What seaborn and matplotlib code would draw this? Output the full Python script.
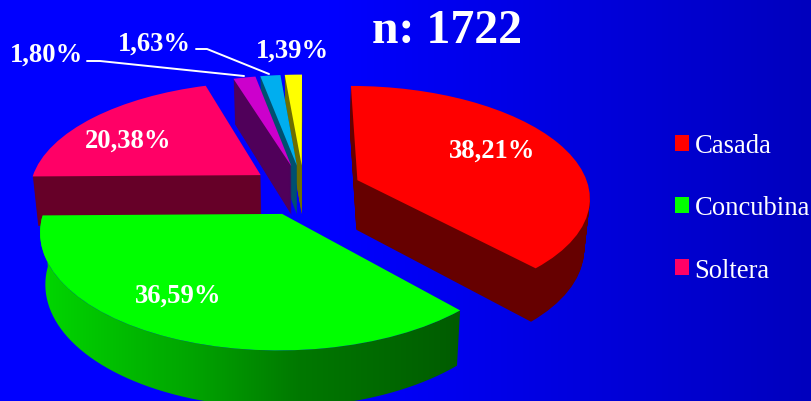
import numpy as np
import matplotlib
matplotlib.use("Agg")
import matplotlib.pyplot as plt
import seaborn as sns
from matplotlib.patches import Wedge
from matplotlib.path import Path
from matplotlib.transforms import Transform

categories = ["Casada", "Concubina", "Soltera", "Otra 1", "Otra 2", "Otra 3"]
shares = [38.21, 36.59, 20.38, 1.80, 1.63, 1.39]
legend_names = ["Casada", "Concubina", "Soltera"]
title_text = "n: 1722"
top_colors = ["#FF0000", "#00FF00", "#FF0066", "#CC00CC", "#00AEEF", "#FFFF00"]
wall_colors = ["#660000", "#006000", "#660028", "#50005A", "#005070", "#6E6E00"]
explode = [0.25, 0.23, 0.235, 0.23, 0.23, 0.23]
label_xy = [(492, 151), (178, 296), (128, 141), (46, 55), (154, 44), (292, 51)]

sns.set_style("white")
plt.rcParams["font.family"] = ["Liberation Serif", "DejaVu Serif"]
palette = sns.color_palette(top_colors)

W, H = 811, 402
CX, CY, A, B, K = 304.0, 191.0, 232.0, 110.0, 0.14
DEPTH, SHRINK = 50, 0.02


class Persp(Transform):
    input_dims = output_dims = 2
    has_inverse = False
    is_separable = False

    def __init__(self, frac=0.0):
        super().__init__()
        self.frac = frac

    def transform_non_affine(self, values):
        v = np.asarray(values, float)
        w = 1 + K * v[:, 1]
        s = 1 - SHRINK * self.frac
        return np.column_stack([
            CX + s * A * v[:, 0] / w,
            CY - s * B * v[:, 1] / w + DEPTH * self.frac / w,
        ])


fig = plt.figure(figsize=(W / 100, H / 100), dpi=100)
ax = fig.add_axes([0, 0, 1, 1])

wedges, _ = ax.pie(shares, explode=explode, colors=palette, startangle=90,
                   counterclock=False, wedgeprops={"linewidth": 0})

bg_x = np.linspace(0, W, 256)
bg_b = np.interp(bg_x, [0, 330, 811], [255, 255, 190]) / 255
bg = np.zeros((2, 256, 3))
bg[:, :, 2] = bg_b
ax.imshow(bg, extent=(0, W, H, 0), aspect="auto", zorder=0)

draw_order = [2, 5, 4, 3, 0, 1]
N = DEPTH
for z, i in enumerate(draw_order):
    w = wedges[i]
    base = 10 + z * 10
    w.set_transform(Persp(0.0) + ax.transData)
    w.set_zorder(base + 5)
    if categories[i] == "Concubina":
        th = np.radians(np.linspace(w.theta1, w.theta2, 200))
        arc = np.column_stack([w.center[0] + w.r * np.cos(th),
                               w.center[1] + w.r * np.sin(th)])
        poly = np.vstack([Persp(0.0).transform(arc),
                          Persp(1.0).transform(arc)[::-1]])
        gx = np.linspace(0, W, 400)
        grad = np.zeros((2, 400, 3))
        grad[:, :, 1] = np.interp(gx, [40, 190, 300, 440, 460],
                                  [215, 165, 120, 95, 92]) / 255
        im = ax.imshow(grad, extent=(0, W, H, 0), aspect="auto", zorder=base)
        im.set_clip_path(Path(np.vstack([poly, poly[0]])), ax.transData)
    else:
        for k in range(N, 0, -1):
            ax.add_patch(Wedge(w.center, w.r, w.theta1, w.theta2,
                               facecolor=wall_colors[i], linewidth=0,
                               transform=Persp(k / N) + ax.transData,
                               zorder=base))

ax.set_xlim(0, W)
ax.set_ylim(H, 0)
ax.set_aspect("auto")
ax.set_axis_off()

for v, (x, y) in zip(shares, label_xy):
    ax.text(x, y, f"{v:.2f}%".replace(".", ","), color="white", fontsize=19.2,
            fontweight="bold", ha="center", va="center", zorder=100)

ax.plot([87, 100, 244], [62, 62, 77], color="white", lw=1.4, zorder=100)
ax.plot([196, 207, 269], [50, 50, 75], color="white", lw=1.4, zorder=100)

ax.text(447, 31, title_text, color="white", fontsize=34.4, fontweight="bold",
        ha="center", va="center", zorder=100)

leg = ax.legend(wedges[:3], legend_names, loc="upper left",
                bbox_to_anchor=(675 / W, 1 - 134 / H), frameon=False,
                fontsize=19.2, labelcolor="white", labelspacing=1.4,
                handlelength=0.54, handleheight=0.54, handletextpad=0.2,
                borderpad=0, borderaxespad=0)
leg.set_zorder(100)

fig.savefig("out.png", dpi=100)
